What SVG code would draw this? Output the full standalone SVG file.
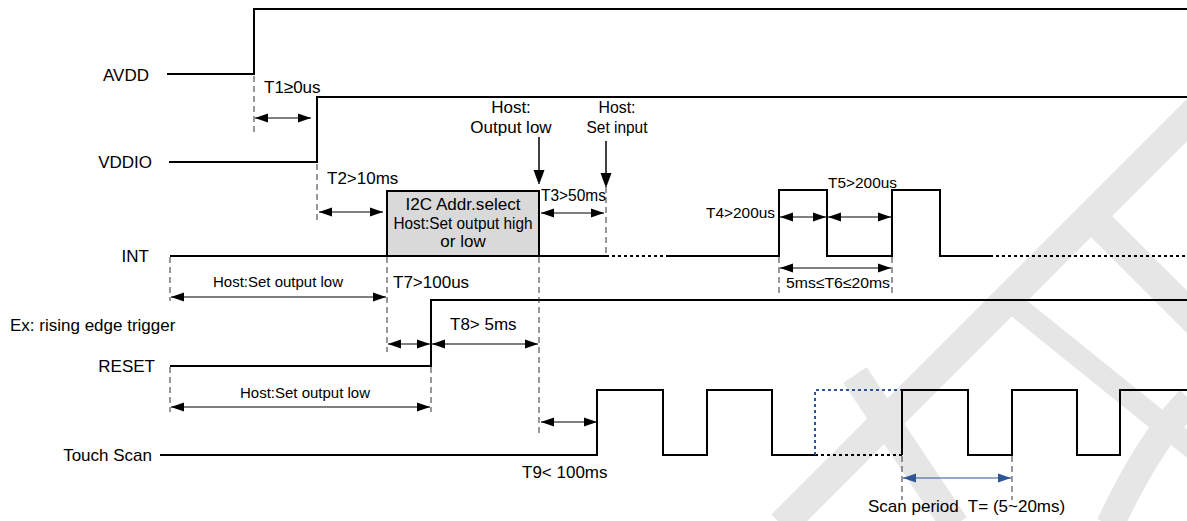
<svg xmlns="http://www.w3.org/2000/svg" width="1187" height="521" viewBox="0 0 1187 521">
<style>
text{font-family:"Liberation Sans",Arial,sans-serif;fill:#000}
.lbl{font-size:17px}
.sm{font-size:15px}
.sig{fill:none;stroke:#000;stroke-width:2}
.dot{fill:none;stroke:#000;stroke-width:2;stroke-dasharray:3 3}
.bdot{fill:none;stroke:#2f5597;stroke-width:2;stroke-dasharray:3 3}
.guide{fill:none;stroke:#333;stroke-width:1;stroke-dasharray:6 4}
.dim{fill:none;stroke:#000;stroke-width:1.2;marker-start:url(#ah);marker-end:url(#ah)}
.bdim{fill:none;stroke:#2f5597;stroke-width:1.2;marker-start:url(#bh);marker-end:url(#bh)}
.down{fill:none;stroke:#000;stroke-width:1.5;marker-end:url(#dh)}
.wm{fill:none;stroke:#e6e6e6}
</style>
<defs>
<marker id="ah" markerUnits="userSpaceOnUse" markerWidth="14" markerHeight="10" refX="13" refY="5" orient="auto-start-reverse"><path d="M0,0.5 L13,5 L0,9.5 z" fill="#000"/></marker>
<marker id="bh" markerUnits="userSpaceOnUse" markerWidth="14" markerHeight="10" refX="13" refY="5" orient="auto-start-reverse"><path d="M0,0.5 L13,5 L0,9.5 z" fill="#2f5597"/></marker>
<marker id="dh" markerUnits="userSpaceOnUse" markerWidth="12" markerHeight="16" refX="14" refY="5.5" orient="auto"><path d="M0,0 L15,5.5 L0,11 z" fill="#000"/></marker>
</defs>
<rect width="1187" height="521" fill="#fff"/>
<g id="watermark">
<line class="wm" x1="1212" y1="95" x2="782" y2="525" stroke-width="30"/>
<line class="wm" x1="1091" y1="216" x2="1200" y2="325" stroke-width="30"/>
<line class="wm" x1="1015" y1="305" x2="1195" y2="450" stroke-width="22"/>
<line class="wm" x1="855" y1="375" x2="955" y2="525" stroke-width="28"/>
<path class="wm" d="M1110,525 Q1150,440 1190,400" stroke-width="28"/>
</g>
<g id="AVDD">
<text class="lbl" x="149" y="81" text-anchor="end">AVDD</text>
<path class="sig" d="M167,74 H254 V9 H1187"/>
</g>
<g id="VDDIO">
<text class="lbl" x="152" y="168" text-anchor="end">VDDIO</text>
<path class="sig" d="M169,162 H317 V97 H1187"/>
</g>
<g id="INT">
<text class="lbl" x="149" y="262" text-anchor="end">INT</text>
<path class="sig" d="M170,256 H387"/>
<path class="sig" d="M539,256 H606"/>
<path class="dot" d="M606,256 H668"/>
<path class="sig" d="M668,256 H779 V190 H827 V256 H892 V190 H940 V256 H990"/>
<path class="dot" d="M990,256 H1187"/>
</g>
<g id="i2c-box">
<rect x="387" y="191" width="152" height="65" fill="#d9d9d9" stroke="#000" stroke-width="2"/>
<text class="lbl" x="463" y="210" text-anchor="middle" textLength="115" lengthAdjust="spacingAndGlyphs">I2C Addr.select</text>
<text class="lbl" x="463" y="229" text-anchor="middle" textLength="139" lengthAdjust="spacingAndGlyphs">Host:Set output high</text>
<text class="lbl" x="463" y="247" text-anchor="middle">or low</text>
</g>
<g id="RESET">
<text class="lbl" x="10" y="331">Ex: rising edge trigger</text>
<text class="lbl" x="155" y="372" text-anchor="end">RESET</text>
<path class="sig" d="M170,366 H431 V300 H1187"/>
</g>
<g id="TouchScan">
<text class="lbl" x="152" y="461" text-anchor="end">Touch Scan</text>
<path class="sig" d="M160,455 H597 V390 H663 V455 H707 V390 H772 V455 H815"/>
<path class="dot" d="M815,455 H902"/>
<path class="bdot" d="M815,455 V390 H902"/>
<path class="sig" d="M902,455 V390 H968 V455 H1012 V390 H1077 V455 H1120 V390 H1187"/>
</g>
<g id="connectors">
<path class="guide" d="M254,76 V135 M317,164 V222 M606,187 V256 M170,257 V301 M387,257 V352 M170,367 V412 M431,367 V412 M539,257 V437 M779,257 V293 M892,257 V293 M902,456 V500 M1012,456 V500"/>
<line class="dim" x1="255" y1="118" x2="311" y2="118"/>
<line class="dim" x1="319" y1="212" x2="383" y2="212"/>
<line class="dim" x1="541" y1="213" x2="604" y2="213"/>
<line class="dim" x1="171" y1="297" x2="386" y2="297"/>
<line class="dim" x1="388" y1="344" x2="430" y2="344"/>
<line class="dim" x1="432" y1="344" x2="538" y2="344"/>
<line class="dim" x1="171" y1="407" x2="430" y2="407"/>
<line class="dim" x1="541" y1="422" x2="597" y2="422"/>
<line class="dim" x1="780" y1="217" x2="826" y2="217"/>
<line class="dim" x1="828" y1="217" x2="891" y2="217"/>
<line class="dim" x1="780" y1="268" x2="891" y2="268"/>
<line class="bdim" x1="903" y1="478" x2="1011" y2="478"/>
<line class="down" x1="539" y1="137" x2="539" y2="184"/>
<line class="down" x1="606" y1="141" x2="606" y2="187"/>
</g>
<g id="labels">
<text class="lbl" x="264" y="93">T1≥0us</text>
<text class="lbl" x="327" y="184">T2&gt;10ms</text>
<text class="lbl" x="511" y="113" text-anchor="middle">Host:</text>
<text class="lbl" x="511" y="133" text-anchor="middle">Output low</text>
<text class="lbl" x="617" y="113" text-anchor="middle" textLength="37" lengthAdjust="spacingAndGlyphs">Host:</text>
<text class="lbl" x="617" y="133" text-anchor="middle" textLength="61" lengthAdjust="spacingAndGlyphs">Set input</text>
<text class="lbl" x="541" y="201" textLength="65" lengthAdjust="spacingAndGlyphs">T3&gt;50ms</text>
<text class="sm" x="706" y="218" textLength="69" lengthAdjust="spacingAndGlyphs">T4&gt;200us</text>
<text class="sm" x="828" y="188" textLength="69" lengthAdjust="spacingAndGlyphs">T5&gt;200us</text>
<text class="sm" x="786" y="288" textLength="104" lengthAdjust="spacingAndGlyphs">5ms≤T6≤20ms</text>
<text class="sm" x="278" y="287" text-anchor="middle">Host:Set output low</text>
<text class="lbl" x="393" y="288">T7&gt;100us</text>
<text class="lbl" x="450" y="330">T8&gt; 5ms</text>
<text class="sm" x="305" y="398" text-anchor="middle">Host:Set output low</text>
<text class="lbl" x="522" y="478">T9&lt; 100ms</text>
<text class="lbl" x="868" y="512" xml:space="preserve">Scan period  T= (5~20ms)</text>
</g>
</svg>
